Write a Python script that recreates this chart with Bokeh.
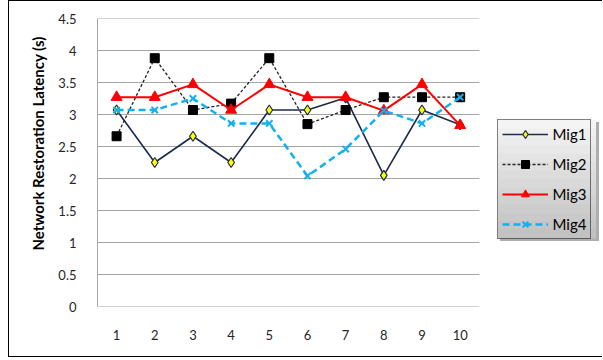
from bokeh.plotting import figure
from bokeh.models import Legend, LegendItem, FixedTicker, Range1d, Title, BoxAnnotation
from bokeh.embed import file_html
from bokeh.resources import INLINE

# Migration runs and measured latencies (seconds)
runs = [1, 2, 3, 4, 5, 6, 7, 8, 9, 10]
mig1 = [3.07, 2.25, 2.66, 2.25, 3.07, 3.07, 3.26, 2.05, 3.07, 2.84]
mig2 = [2.66, 3.88, 3.07, 3.17, 3.88, 2.85, 3.07, 3.27, 3.27, 3.27]
mig3 = [3.27, 3.27, 3.47, 3.07, 3.47, 3.27, 3.27, 3.06, 3.47, 2.83]
mig4 = [3.07, 3.07, 3.25, 2.86, 2.86, 2.04, 2.46, 3.06, 2.86, 3.27]
y_ticks = [0, 0.5, 1, 1.5, 2, 2.5, 3, 3.5, 4, 4.5]

FONT = "Lato"

# canvas geometry (px)
W, H = 593, 355
LEFT, TOP, BOTTOM = 88, 17, 52
CAT_PX = 38.1                      # width of one run slot on the x axis
frame_w = W - LEFT
x_lo = runs[0] - 0.5
x_hi = x_lo + frame_w / CAT_PX     # plot area continues under the legend
x_end = runs[-1] + 0.5             # last slot edge: gridlines stop here

p = figure(width=W, height=H, output_backend="svg", toolbar_location=None,
           x_range=Range1d(x_lo, x_hi), y_range=Range1d(y_ticks[0], y_ticks[-1]),
           min_border_left=LEFT, min_border_right=0, min_border_top=TOP,
           min_border_bottom=BOTTOM)
# chart frame drawn as a CSS border around the canvas
p.styles = {"box-sizing": "content-box",
            "margin-left": "8px",
            "border-left": "1.5px solid #000",
            "border-top": "1.5px solid #000",
            "border-bottom": "1.5px solid #000"}
p.outline_line_color = None
p.background_fill_color = "white"
p.border_fill_color = "white"

# axes
p.xaxis.ticker = FixedTicker(ticks=runs)
p.yaxis.ticker = FixedTicker(ticks=y_ticks)
p.yaxis.formatter.use_scientific = False
for ax in (p.xaxis[0], p.yaxis[0]):
    ax.axis_line_color = "#a6a6a6"
    ax.axis_line_width = 1
    ax.major_tick_line_color = None
    ax.minor_tick_line_color = None
    ax.major_label_text_font = FONT
    ax.major_label_text_font_size = "13px"
    ax.major_label_text_color = "#262626"
p.xaxis.axis_line_color = None
p.xaxis.major_label_standoff = 17
p.yaxis.major_label_standoff = 15
p.xgrid.grid_line_color = None
p.ygrid.grid_line_color = None

# horizontal gridlines (the one at 0 doubles as the x axis line)
p.segment(x0=[x_lo] * len(y_ticks), x1=[x_end] * len(y_ticks),
          y0=y_ticks, y1=y_ticks, line_color="#a6a6a6", line_width=1)

# y-axis title
ytitle = Title(text="Network Restoration Latency (s)", align="left",
               offset=56, standoff=18, text_font=FONT, text_font_style="bold",
               text_font_size="15px", text_color="#000000")
p.add_layout(ytitle, "left")

# series
l1 = p.line(runs, mig1, line_color="#1c2b49", line_width=1.6)
m1 = p.scatter(runs, mig1, marker="diamond", size=10, fill_color="#ffff00",
               line_color="#1c2b49", line_width=1.2)
l2 = p.line(runs, mig2, line_color="#222222", line_width=1.3, line_dash="3 2")
m2 = p.scatter(runs, mig2, marker="square", size=9, fill_color="#000000",
               line_color="#000000")
l3 = p.line(runs, mig3, line_color="#ff0000", line_width=2)
m3 = p.scatter(runs, mig3, marker="triangle", size=11, fill_color="#ff0000",
               line_color="#ff0000")
l4 = p.line(runs, mig4, line_color="#12b0ee", line_width=2.5, line_dash="7 4")
m4 = p.scatter(runs, mig4, marker="x", size=9, line_color="#12b0ee", line_width=2)

# legend box: drop shadow and vertical gray gradient behind the entries
LG_L, LG_R, LG_T, LG_B = 487.5, 585.5, 117.5, 235.5
p.add_layout(BoxAnnotation(left=LG_L + 2, right=LG_R + 3, top=LG_T + 2, bottom=LG_B + 3,
                           left_units="canvas", right_units="canvas",
                           top_units="canvas", bottom_units="canvas",
                           fill_color="#8c8c8c", fill_alpha=0.7, line_color=None))
n_bands = 14
for i in range(n_bands):
    t = LG_T + (LG_B - LG_T) * i / n_bands
    b = LG_T + (LG_B - LG_T) * (i + 1) / n_bands
    g = int(0xf4 - (0xf4 - 0xc2) * i / (n_bands - 1))
    p.add_layout(BoxAnnotation(left=LG_L, right=LG_R, top=t, bottom=b + 0.6,
                               left_units="canvas", right_units="canvas",
                               top_units="canvas", bottom_units="canvas",
                               fill_color="#%02x%02x%02x" % (g, g, g),
                               fill_alpha=1, line_color=None))

legend = Legend(items=[LegendItem(label="Mig1", renderers=[l1, m1]),
                       LegendItem(label="Mig2", renderers=[l2, m2]),
                       LegendItem(label="Mig3", renderers=[l3, m3]),
                       LegendItem(label="Mig4", renderers=[l4, m4])],
                location=(LG_L - LEFT, H - BOTTOM - LG_B), orientation="vertical",
                padding=4, spacing=10, margin=0,
                glyph_width=46, glyph_height=20, label_height=20,
                label_standoff=5, label_text_font=FONT,
                label_text_font_size="15px", label_text_color="#000000",
                background_fill_alpha=0,
                border_line_color="#000000", border_line_width=1.5)
p.add_layout(legend, "center")

open("out.html", "w").write(file_html(p, INLINE))
